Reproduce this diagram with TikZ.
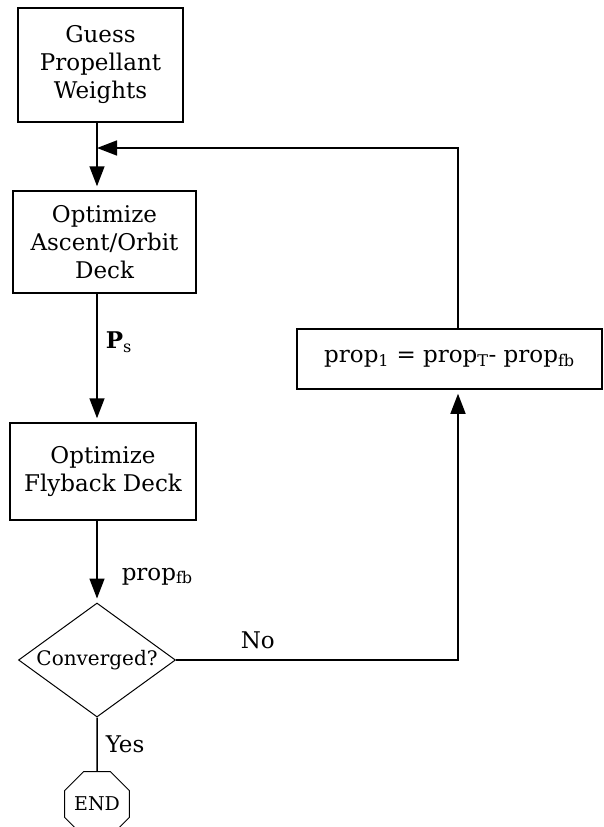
\documentclass[tikz,border=0pt]{standalone}
\usepackage{fontspec}
\setmainfont{DejaVu Serif}
\usetikzlibrary{shapes.geometric,arrows.meta}

\begin{document}
\begin{tikzpicture}[x=1pt,y=-1pt,
    blk/.style={draw,line width=1.5pt,align=center,inner sep=0pt,font=\fontsize{23}{28}\selectfont},
    arr/.style={line width=1.5pt,-{Triangle[length=20pt,width=15pt]},shorten >=4pt},
    lbl/.style={font=\fontsize{23}{28}\selectfont,inner sep=2pt}]

    \path[fill=white] (0,0) rectangle (604,827);
    \useasboundingbox (0,0) rectangle (604,827);

    \node[blk,minimum width=165pt,minimum height=114pt] (v1) at (100.5,65) {Guess\\Propellant\\Weights};
    \node[blk,minimum width=183pt,minimum height=102pt] (v2) at (104.5,242) {Optimize\\Ascent/Orbit\\Deck};
    \node[blk,minimum width=186pt,minimum height=97pt] (v3) at (103,471.5) {Optimize\\Flyback Deck};
    \node[draw,diamond,aspect=1.38,line width=1pt,inner sep=0pt,minimum width=157pt,minimum height=114pt,font=\fontsize{20}{24}\selectfont] (v4) at (97,660) {Converged?};
    \node[draw,regular polygon,regular polygon sides=8,line width=1pt,inner sep=0pt,minimum size=67pt,font=\fontsize{19}{22}\selectfont] (v5) at (97,804) {END};
    \node[blk,minimum width=305pt,minimum height=60pt] (v6) at (449.5,359) {prop\textsubscript{1} = prop\textsubscript{T}- prop\textsubscript{fb}};

    \coordinate (j1) at (97,148);
    \coordinate (c1) at (458,660);
    \coordinate (c2) at (458,148);

    \draw[line width=1.5pt] (v1.south -| j1) -- (j1);
    \draw[arr] (j1) -- (v2.north -| j1);
    \draw[arr] (v2.south -| j1) -- node[lbl,right,pos=0.38,xshift=6pt]{\textbf{P}\textsubscript{s}} (v3.north -| j1);
    \draw[arr] (v3.south -| j1) -- node[lbl,right,pos=0.68,xshift=22pt]{prop\textsubscript{fb}} (v4.north);
    \draw[line width=1.5pt] (v4.south) -- node[lbl,right,xshift=6pt]{Yes} (v5.north);
    \draw[arr] (v4.east) -- node[lbl,above=8pt,pos=0.29]{No} (c1) -- (c1 |- v6.south);
    \draw[arr,shorten >=0pt] (v6.north -| c1) -- (c2) -- (j1);
    \end{tikzpicture}
\end{document}
